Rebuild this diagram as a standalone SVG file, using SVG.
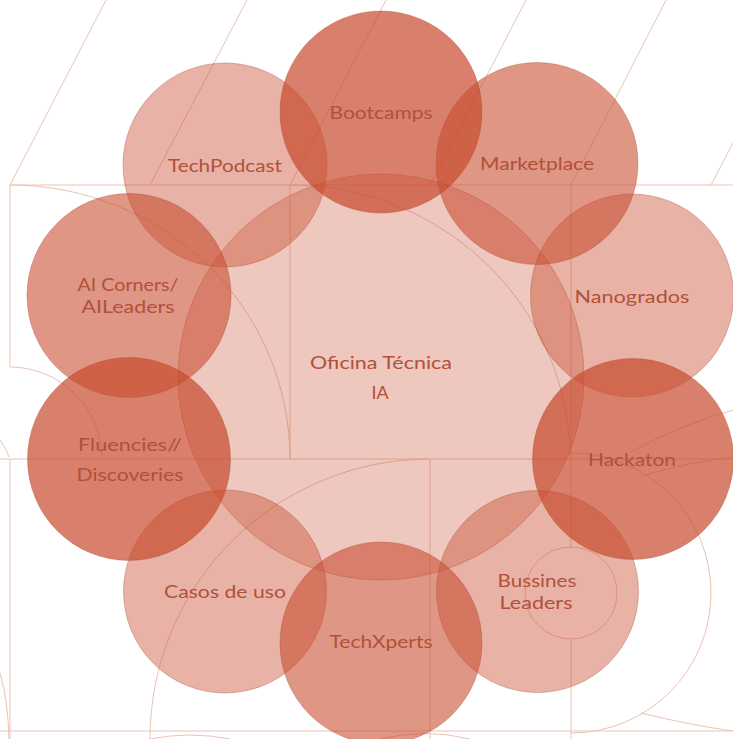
<svg xmlns="http://www.w3.org/2000/svg" width="733" height="739" viewBox="0 0 733 739">
<style>
.bg{fill:none;stroke:#e9c4b6;stroke-width:1}
.c{fill:#c84a2c;stroke:#a8452c;stroke-opacity:0.35;stroke-width:1}
.center{fill-opacity:0.31}
.light{fill-opacity:0.42}
.mid{fill-opacity:0.58}
.dark{fill-opacity:0.7}
.t{font-family:Lato,"Open Sans","Liberation Sans",sans-serif;font-size:18px;fill:#b2503a;text-anchor:middle}
</style>
<rect width="733" height="739" fill="#ffffff"/>
<g id="background">
<path class="bg" d="M106,0 L10,185 M247,0 L150,185 M386,0 L290,185 M526,0 L430,185 M666,0 L571,185 M733,143 L711,185"/>
<path class="bg" d="M10,185 H733 M0,459 H733 M0,731 H733"/>
<path class="bg" d="M10,185 V367 M10,459 V739 M290,185 V459 M571,185 V548 M571,639 V739 M430,459 V739"/>
<path class="bg" d="M10,185 A280,274 0 0 1 290,459 M290,185 A280,274 0 0 1 570,459"/>
<path class="bg" d="M10,367 A92,92 0 0 1 102,459"/>
<path class="bg" d="M430,459 A280,280 0 0 0 150,739"/>
<circle class="bg" cx="571" cy="593" r="46"/>
<path class="bg" d="M571,453 A140,140 0 0 1 571,733"/>
<path class="bg" d="M641,713 Q690,725 733,731"/>
<path class="bg" d="M733,410 Q680,425 630,452 M733,457 Q690,462 641,476"/>
<path class="bg" d="M0,673 Q8,700 9,739 M0,440 Q6,448 9,457"/>
<path class="bg" d="M380,739 Q425,728 470,739 M150,739 Q190,731 230,739"/>
</g>
<g id="oficina-tecnica-ia">
<circle class="c center" cx="381" cy="377" r="203"/>
<text class="t" x="381" y="369" textLength="142" lengthAdjust="spacingAndGlyphs">Oficina Técnica</text>
<text class="t" x="380" y="399">IA</text>
</g>
<g id="techpodcast">
<circle class="c light" cx="225" cy="165" r="102"/>
<text class="t" x="225" y="172" textLength="114" lengthAdjust="spacingAndGlyphs">TechPodcast</text>
</g>
<g id="nanogrados">
<circle class="c light" cx="632" cy="295.5" r="101.5"/>
<text class="t" x="632" y="303" textLength="115" lengthAdjust="spacingAndGlyphs">Nanogrados</text>
</g>
<g id="casos-de-uso">
<circle class="c light" cx="225" cy="591.5" r="101.5"/>
<text class="t" x="225" y="598" textLength="122" lengthAdjust="spacingAndGlyphs">Casos de uso</text>
</g>
<g id="bussines-leaders">
<circle class="c light" cx="537.5" cy="591.5" r="101"/>
<text class="t" x="537" y="587" textLength="79" lengthAdjust="spacingAndGlyphs">Bussines</text>
<text class="t" x="536" y="609" textLength="73" lengthAdjust="spacingAndGlyphs">Leaders</text>
</g>
<g id="marketplace">
<circle class="c mid" cx="537" cy="163.5" r="101"/>
<text class="t" x="537" y="170" textLength="114" lengthAdjust="spacingAndGlyphs">Marketplace</text>
</g>
<g id="techxperts">
<circle class="c mid" cx="381" cy="643" r="101"/>
<text class="t" x="381" y="648" textLength="103" lengthAdjust="spacingAndGlyphs">TechXperts</text>
</g>
<g id="ai-corners">
<circle class="c mid" cx="129" cy="295.5" r="102"/>
<text class="t" x="128" y="291" textLength="101" lengthAdjust="spacingAndGlyphs">AI Corners/</text>
<text class="t" x="128" y="313" textLength="93" lengthAdjust="spacingAndGlyphs">AILeaders</text>
</g>
<g id="bootcamps">
<circle class="c dark" cx="381" cy="112" r="101"/>
<text class="t" x="381" y="119" textLength="103" lengthAdjust="spacingAndGlyphs">Bootcamps</text>
</g>
<g id="fluencies-discoveries">
<circle class="c dark" cx="129" cy="459" r="101.5"/>
<text class="t" x="130" y="451" textLength="104" lengthAdjust="spacingAndGlyphs">Fluencies//</text>
<text class="t" x="130" y="481" textLength="107" lengthAdjust="spacingAndGlyphs">Discoveries</text>
</g>
<g id="hackaton">
<circle class="c dark" cx="633" cy="459" r="100.5"/>
<text class="t" x="632" y="466" textLength="88" lengthAdjust="spacingAndGlyphs">Hackaton</text>
</g>
</svg>
